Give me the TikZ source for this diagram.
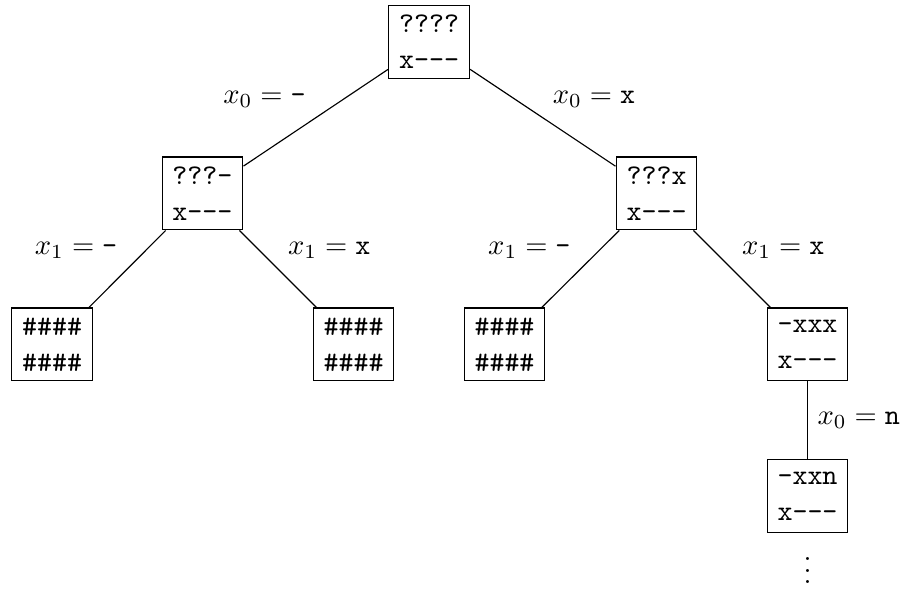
\documentclass[tikz,border=0pt]{standalone}
\begin{document}
\begin{tikzpicture}[x=0.35pt,y=-0.35pt,
  state/.style={draw, line width=0.4pt, font=\ttfamily\linespread{1.05}\selectfont, align=center,
                minimum width=28.3pt, minimum height=25.5pt, inner sep=3.33pt},
  branch/.style={draw, line width=0.4pt}]
\useasboundingbox (0,0) rectangle (902,590);
% search states
\node[state] (r)   at (429,42)      {????\\x-\kern0pt-\kern0pt-};
\node[state] (a)   at (202.5,193.5) {???-\\x-\kern0pt-\kern0pt-};
\node[state] (b)   at (656.5,193.5) {???x\\x-\kern0pt-\kern0pt-};
\node[state] (aa)  at (52,344.5)    {\#\#\#\#\\\#\#\#\#};
\node[state] (ab)  at (353.5,344.5) {\#\#\#\#\\\#\#\#\#};
\node[state] (ba)  at (504.5,344.5) {\#\#\#\#\\\#\#\#\#};
\node[state] (bb)  at (807.5,344.5) {-xxx\\x-\kern0pt-\kern0pt-};
\node[state] (bbb) at (807.5,496)   {-xxn\\x-\kern0pt-\kern0pt-};
\node (dots) at (807.5,562) {$\vdots$};
% branches with their assignments
\draw[branch] (r) -- node[above left]  {$x_0 = \texttt{-}$} (a);
\draw[branch] (r) -- node[above right] {$x_0 = \texttt{x}$} (b);
\draw[branch] (a) -- node[above left]  {$x_1 = \texttt{-}$} (aa);
\draw[branch] (a) -- node[above right] {$x_1 = \texttt{x}$} (ab);
\draw[branch] (b) -- node[above left]  {$x_1 = \texttt{-}$} (ba);
\draw[branch] (b) -- node[above right] {$x_1 = \texttt{x}$} (bb);
\draw[branch] (bb) -- node[right] {$x_0 = \texttt{n}$} (bbb);
\end{tikzpicture}
\end{document}
